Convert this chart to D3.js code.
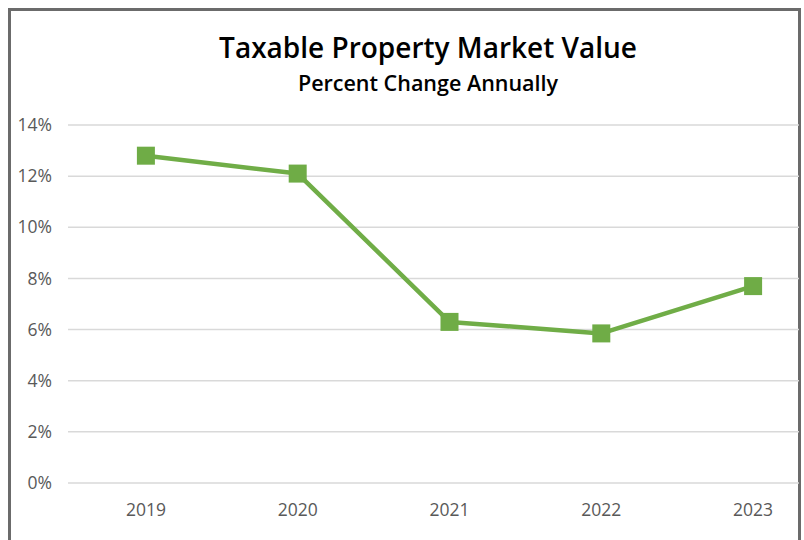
<!DOCTYPE html>
<html>
<head>
<meta charset="utf-8">
<script src="https://cdn.jsdelivr.net/npm/d3@7"></script>
<style>
  body { margin: 0; background: #fff; }
  svg { display: block; font-family: "Open Sans", "Noto Sans", sans-serif; }
</style>
</head>
<body>
<div id="container"></div>
<script>
const years = ["2019", "2020", "2021", "2022", "2023"];
const pctChange = [12.8, 12.1, 6.3, 5.85, 7.7];
const yTicks = [0, 2, 4, 6, 8, 10, 12, 14];

const width = 804;
const height = 540;

const svg = d3.select("div#container").append("svg")
    .attr("width", width)
    .attr("height", height);

// frame
svg.append("rect")
    .attr("x", 9.5).attr("y", 9.5)
    .attr("width", 790).attr("height", 560)
    .attr("fill", "#fff")
    .attr("stroke", "#6b6b6b")
    .attr("stroke-width", 3);

const xScale = d3.scaleBand().domain(years).range([70, 829]);
const yScale = d3.scaleLinear().domain([0, 14]).range([483, 125]);

// gridlines
svg.append("g").selectAll("line").data(yTicks).enter()
    .append("line")
    .attr("x1", 68).attr("x2", 799)
    .attr("y1", d => yScale(d)).attr("y2", d => yScale(d))
    .attr("stroke", "#d9d9d9")
    .attr("stroke-width", 1.5);

// y labels
svg.append("g").selectAll("text").data(yTicks).enter()
    .append("text")
    .attr("x", 52)
    .attr("y", d => yScale(d))
    .attr("dy", "0.35em")
    .attr("text-anchor", "end")
    .attr("font-size", 17.5)
    .attr("fill", "#595959")
    .text(d => d + "%");

// x labels
svg.append("g").selectAll("text").data(years).enter()
    .append("text")
    .attr("x", d => xScale(d) + xScale.bandwidth() / 2)
    .attr("y", 516)
    .attr("text-anchor", "middle")
    .attr("font-size", 17.5)
    .attr("fill", "#595959")
    .text(d => d);

const pts = years.map((y, i) => ({year: y, value: pctChange[i]}));

const line = d3.line()
    .x(d => xScale(d.year) + xScale.bandwidth() / 2)
    .y(d => yScale(d.value));

svg.append("path")
    .datum(pts)
    .attr("d", line)
    .attr("fill", "none")
    .attr("stroke", "#70ad47")
    .attr("stroke-width", 4.5)
    .attr("stroke-linejoin", "round");

const m = 18;
svg.append("g").selectAll("rect").data(pts).enter()
    .append("rect")
    .attr("x", d => xScale(d.year) + xScale.bandwidth() / 2 - m / 2)
    .attr("y", d => yScale(d.value) - m / 2)
    .attr("width", m).attr("height", m)
    .attr("fill", "#6fac46");

// titles
svg.append("text")
    .attr("x", 428).attr("y", 58)
    .attr("text-anchor", "middle")
    .attr("font-size", 28)
    .attr("font-weight", 600)
    .attr("fill", "#000")
    .text("Taxable Property Market Value");

svg.append("text")
    .attr("x", 428).attr("y", 91)
    .attr("text-anchor", "middle")
    .attr("font-size", 21.5)
    .attr("font-weight", 600)
    .attr("fill", "#000")
    .text("Percent Change Annually");
</script>
</body>
</html>
